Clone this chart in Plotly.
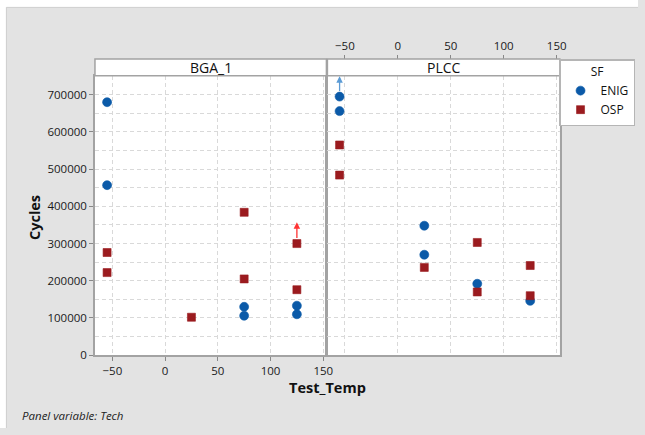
import plotly.graph_objects as go

W, H = 645, 435

# ---------------- data ----------------
panels = ["BGA_1", "PLCC"]
x_ticks = [-50, 0, 50, 100, 150]
y_ticks = [0, 100000, 200000, 300000, 400000, 500000, 600000, 700000]
y_tick_labels = [str(v) for v in y_ticks]

bga_enig_temp = [-55, -55, 75, 75, 125, 125]
bga_enig_cycles = [680000, 457000, 130000, 106000, 133000, 110000]
bga_osp_temp = [-55, -55, 25, 75, 75, 125, 125]
bga_osp_cycles = [276000, 222000, 102000, 384000, 205000, 300000, 176000]

plcc_enig_temp = [-55, -55, 25, 25, 75, 125]
plcc_enig_cycles = [695000, 656000, 348000, 270000, 192000, 146000]
plcc_osp_temp = [-55, -55, 25, 75, 75, 125, 125]
plcc_osp_cycles = [565000, 484000, 236000, 303000, 170000, 241000, 160000]

# censored (run-out) arrows: panel, temp, from cycles, to cycles, colour
arrow_panel = ["BGA_1", "PLCC"]
arrow_temp = [125, -55]
arrow_from = [300000, 695000]
arrow_to = [357000, 750000]
arrow_color = ["#ff3333", "#5b9bd5"]

BLUE = "#0b5aa8"
RED = "#9b1b1f"
FONT = "Open Sans"


def px_x(p):
    return p / W


def px_y(p):
    return 1 - p / H


fig = go.Figure()

series = [
    ("x", "y", bga_enig_temp, bga_enig_cycles, "ENIG", BLUE, "circle", 9, True),
    ("x", "y", bga_osp_temp, bga_osp_cycles, "OSP", RED, "square", 8, True),
    ("x2", "y2", plcc_enig_temp, plcc_enig_cycles, "ENIG", BLUE, "circle", 9, False),
    ("x2", "y2", plcc_osp_temp, plcc_osp_cycles, "OSP", RED, "square", 8, False),
]
for xa, ya, xs, ys, name, col, sym, size, show in series:
    fig.add_trace(go.Scatter(
        x=xs, y=ys, mode="markers", name=name, xaxis=xa, yaxis=ya,
        legendgroup=name, showlegend=show,
        marker=dict(color=col, symbol=sym, size=size,
                    line=dict(width=0.6, color=col)),
    ))

fig.add_trace(go.Scatter(x=[None], y=[None], xaxis="x3", yaxis="y2",
                         showlegend=False, hoverinfo="skip"))

xr = [-66.5, 153]
yr = [0, 751000]
ydom = [px_y(361), px_y(77)]
grid = dict(showgrid=True, gridcolor="#d9d9d9", gridwidth=1, griddash="4px,3px")
border = dict(showline=True, mirror=True, linecolor="#a3a3a3", linewidth=1.5)
tickf = dict(family=FONT, size=11.5, color="#1a1a1a")

fig.update_layout(
    width=W, height=H, autosize=False,
    margin=dict(l=0, r=0, t=0, b=0),
    paper_bgcolor="#e3e3e3", plot_bgcolor="white",
    font=dict(family=FONT, color="#1a1a1a"),
    xaxis=dict(domain=[px_x(96), px_x(330)], range=xr, anchor="y",
               tickvals=x_ticks, ticks="outside", ticklen=4, tickcolor="#888888",
               tickfont=tickf, zeroline=False, **grid, **border),
    xaxis2=dict(domain=[px_x(331), px_x(566)], range=xr, anchor="y2",
                tickvals=x_ticks, showticklabels=False, ticks="",
                zeroline=False, **grid, **border),
    xaxis3=dict(overlaying="x2", anchor="free", position=px_y(60), side="top",
                range=xr, tickvals=x_ticks, ticks="outside", ticklen=4,
                tickcolor="#888888", tickfont=tickf, showgrid=False,
                zeroline=False, showline=False),
    yaxis=dict(domain=ydom, range=yr, anchor="x", tickvals=y_ticks,
               ticktext=y_tick_labels, ticks="outside", ticklen=4,
               tickcolor="#888888", tickfont=tickf, zeroline=False,
               minor=dict(dtick=50000, tick0=0, showgrid=True, gridcolor="#d9d9d9",
                          griddash="4px,3px", ticks=""),
               **grid, **border),
    yaxis2=dict(domain=ydom, range=yr, anchor="x2", tickvals=y_ticks,
                showticklabels=False, ticks="", zeroline=False,
                minor=dict(dtick=50000, tick0=0, showgrid=True, gridcolor="#d9d9d9",
                           griddash="4px,3px", ticks=""),
                **grid, **border),
    legend=dict(
        x=px_x(642), y=px_y(60), xanchor="right", yanchor="top",
        bgcolor="white", bordercolor="#b5b5b5", borderwidth=1.5,
        font=dict(family=FONT, size=12, color="#111111"),
        title=dict(text="SF", side="top center",
                   font=dict(family=FONT, size=12, color="#111111")),
        itemwidth=30, tracegroupgap=0,
    ),
)

shapes = [
    dict(type="rect", xref="paper", yref="paper", x0=0, x1=px_x(6), y0=0, y1=1,
         fillcolor="white", line=dict(width=0), layer="below"),
    dict(type="rect", xref="paper", yref="paper", x0=0, x1=1, y0=px_y(7), y1=1,
         fillcolor="white", line=dict(width=0), layer="below"),
    dict(type="line", xref="paper", yref="paper", x0=px_x(6.5), x1=1,
         y0=px_y(7.5), y1=px_y(7.5), line=dict(color="#d0d0d0", width=1)),
    dict(type="line", xref="paper", yref="paper", x0=px_x(6.5), x1=px_x(6.5),
         y0=0, y1=px_y(7.5), line=dict(color="#d0d0d0", width=1)),
]
annotations = []
for ax, name in zip(["x", "x2"], panels):
    shapes.append(dict(type="rect", xref=f"{ax} domain", yref="paper", x0=0, x1=1,
                       y0=px_y(77), y1=px_y(60), fillcolor="white",
                       line=dict(color="#a3a3a3", width=1.5)))
    annotations.append(dict(xref=f"{ax} domain", yref="paper", x=0.5, y=px_y(68.5),
                            text=name, showarrow=False,
                            font=dict(family=FONT, size=14, color="#111111"),
                            xanchor="center", yanchor="middle"))

for p, t, y0, y1, c in zip(arrow_panel, arrow_temp, arrow_from, arrow_to, arrow_color):
    ax, ay = ("x", "y") if p == "BGA_1" else ("x2", "y2")
    annotations.append(dict(xref=ax, yref=ay, axref=ax, ayref=ay,
                            x=t, y=y1, ax=t, ay=y0, text="", showarrow=True,
                            arrowhead=2, arrowsize=1, arrowwidth=1.3,
                            arrowcolor=c, startstandoff=4, standoff=0))

annotations += [
    dict(xref="paper", yref="paper", x=px_x(35), y=px_y(221), text="<b>Cycles</b>",
         textangle=-90, showarrow=False, font=dict(family=FONT, size=14.5, color="#111111"),
         xanchor="center", yanchor="middle"),
    dict(xref="paper", yref="paper", x=px_x(331), y=px_y(394), text="<b>Test_Temp</b>",
         showarrow=False, font=dict(family=FONT, size=14.5, color="#111111"),
         xanchor="center", yanchor="middle"),
    dict(xref="paper", yref="paper", x=px_x(20), y=px_y(422.5),
         text="<i>Panel variable: Tech</i>", showarrow=False,
         font=dict(family=FONT, size=11.5, color="#222222"),
         xanchor="left", yanchor="middle"),
]
fig.update_layout(shapes=shapes, annotations=annotations)

fig.write_html("out.html")
